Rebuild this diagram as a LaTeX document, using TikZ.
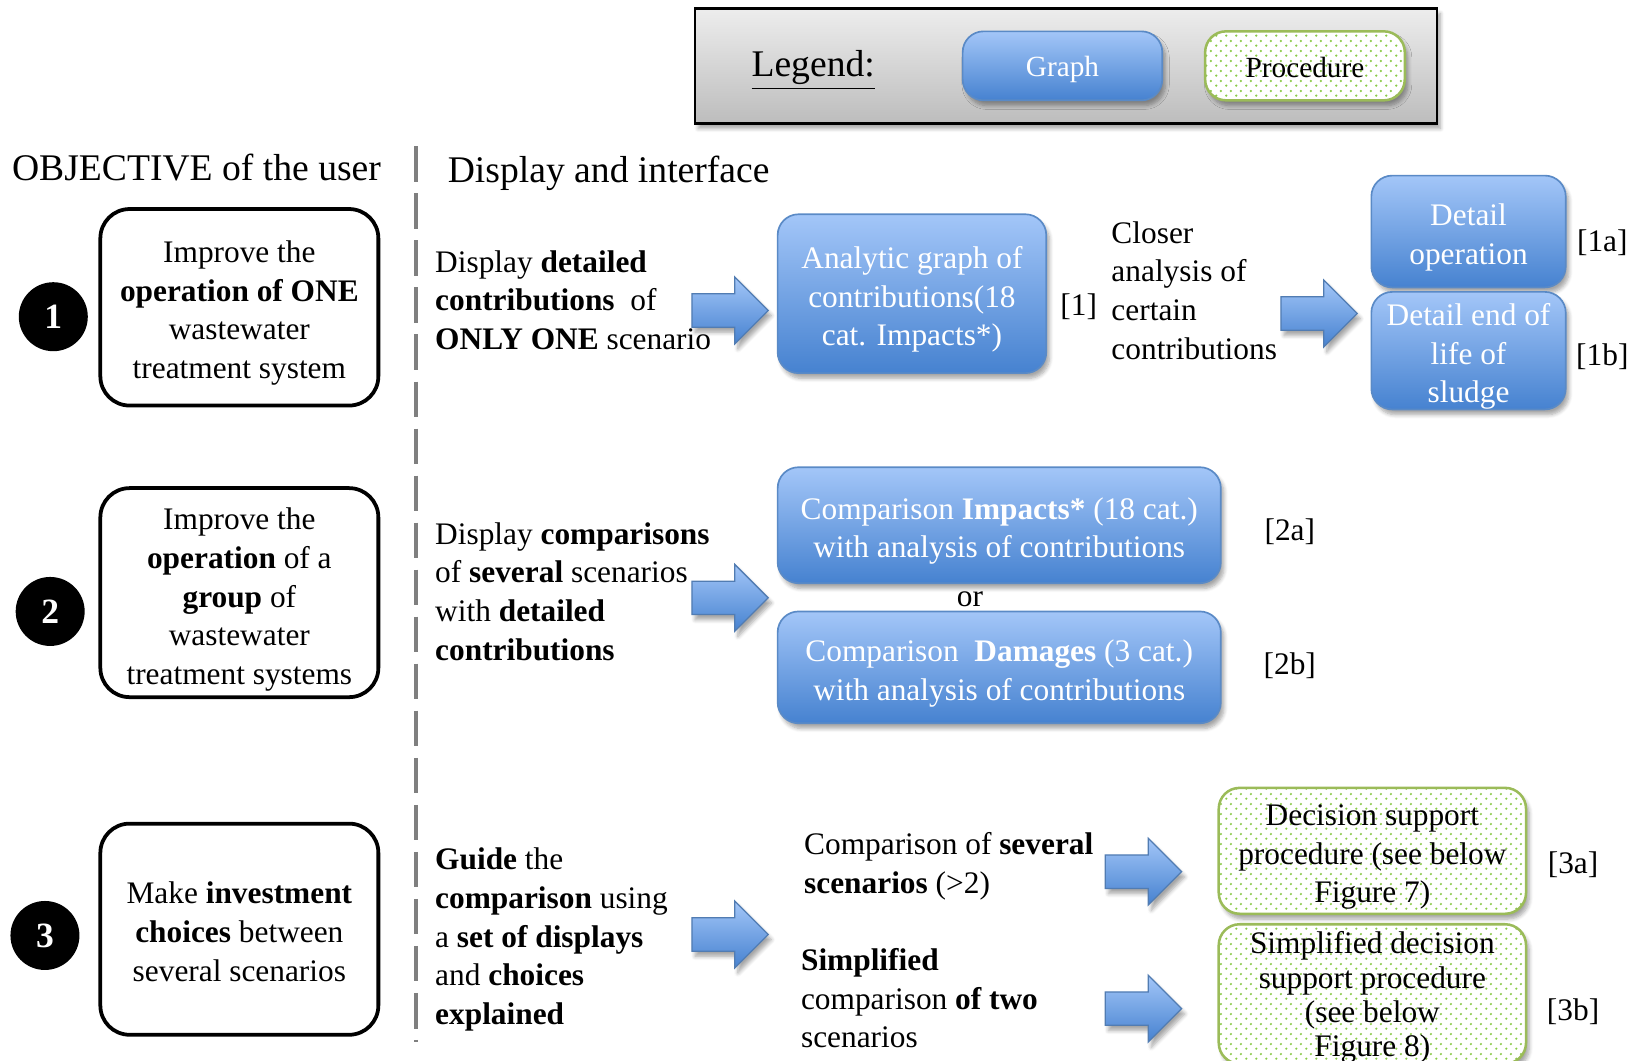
\documentclass[tikz,border=0pt]{standalone}
\usepackage{fontspec}
\setmainfont{Liberation Serif}
\usetikzlibrary{shadows.blur,patterns,patterns.meta}
\definecolor{bluetop}{HTML}{A3C6F8}
\definecolor{bluebot}{HTML}{4682D0}
\definecolor{blueline}{HTML}{5A8AC6}
\definecolor{greenline}{HTML}{9BBB59}
\definecolor{greendot}{HTML}{8CCB4A}
\definecolor{dashgray}{HTML}{7F7F7F}
\newcommand{\fs}{\rule{0pt}{16pt}}
\tikzdeclarepattern{
  name=gdots, type=uncolored,
  bounding box={(0pt,0pt) and (4.8pt,4.8pt)},
  tile size={(4.8pt,4.8pt)},
  code={\fill (1.2pt,1.2pt) circle (0.65pt); \fill (3.6pt,3.6pt) circle (0.65pt);}
}
\begin{document}
\begin{tikzpicture}[x=0.5pt,y=-0.5pt,
  txt/.style={font=\fontsize{15}{18.5}\selectfont, inner sep=0pt, align=left},
  head/.style={font=\fontsize{18}{21}\selectfont, inner sep=0pt},
  shad/.style={blur shadow={shadow xshift=1.5pt, shadow yshift=-2.5pt, shadow opacity=35, shadow blur steps=6}},
  bluebox/.style={shad, draw=blueline, line width=0.8pt, rounded corners=10pt,
     top color=bluetop, bottom color=bluebot, text=white, align=center,
     font=\fontsize{15}{18.5}\selectfont, inner sep=2pt},
  procbox/.style={shad, preaction={fill=white}, pattern={gdots}, pattern color=greendot,
     draw=greenline, line width=1.2pt, rounded corners=10pt, align=center,
     font=\fontsize{15}{18.5}\selectfont, inner sep=2pt},
  objbox/.style={draw=black, line width=1.8pt, rounded corners=14pt, fill=white, align=center,
     font=\fontsize{15}{18.5}\selectfont, minimum width=133pt, inner sep=2pt},
  numdot/.style={circle, fill=black, text=white, minimum size=33pt, inner sep=0pt,
     font=\fontsize{17}{20}\selectfont\bfseries},
  arrowshape/.style={shad, draw=blueline!90!black, line width=0.6pt, top color=bluetop, bottom color=bluebot},
  barrow/.pic={\path[arrowshape] (-36.5,-16) -- (4.5,-16) -- (4.5,-32) -- (36.5,0) -- (4.5,32) -- (4.5,16) -- (-36.5,16) -- cycle;},
  dashline/.style={draw=dashgray, line width=1.6pt, dash pattern=on 17pt off 5.5pt}
]
\useasboundingbox (0,0) rectangle (1570,1015);

% legend
\node[shad, draw=black, line width=1.2pt, top color=white!93!black, bottom color=white!74!black,
      minimum width=355pt, minimum height=55pt, inner sep=0pt] (legend) at (1020,63) {};
\node[head] (legtitle) at (778,67) {\underline{Legend:}};
\node[bluebox, minimum width=95.5pt, minimum height=33pt, font=\fontsize{14}{16}\selectfont] (leggraph) at (1016.5,63) {\rule{0pt}{13.5pt}Graph};
\node[procbox, minimum width=95.5pt, minimum height=33pt, font=\fontsize{14}{16}\selectfont] (legproc) at (1248.5,63) {\rule{0pt}{11.5pt}Procedure};

% headers
\node[head] (hobj) at (188,160) {OBJECTIVE of the user};
\node[head, anchor=west] (hdisp) at (428,166) {Display and interface};
\coordinate (dtop) at (398,140);
\coordinate (dbot) at (398,997);
\draw[dashline] (dtop) -- (dbot);

% objectives
\node[objbox, minimum height=94pt] (obj1) at (229,294) {\fs Improve the\\\textbf{operation of ONE}\\wastewater\\treatment system};
\node[objbox, minimum height=100pt] (obj2) at (229,567) {\rule{0pt}{17pt}Improve the\\\textbf{operation} of a\\\textbf{group} of\\wastewater\\treatment systems};
\node[objbox, minimum height=101pt] (obj3) at (229,889) {\rule{0pt}{13pt}Make \textbf{investment}\\\textbf{choices} between\\several scenarios};
\node[numdot] (n1) at (51,303) {1};
\node[numdot] (n2) at (48,585) {2};
\node[numdot] (n3) at (43,895) {3};

% row 1
\node[txt, anchor=west] (d1) at (416,287) {Display \textbf{detailed}\\\textbf{contributions}\ \ of\\\textbf{ONLY ONE} scenario};
\pic at (698.5,297) {barrow};
\node[bluebox, minimum width=128.5pt, minimum height=76pt] (g1) at (872.5,281) {\fs Analytic graph of\\contributions(18\\cat. Impacts*)};
\node[txt] (l1) at (1032,293) {[1]};
\node[txt, anchor=west] (c1) at (1063,278) {Closer\\analysis of\\certain\\contributions};
\pic at (1262,300) {barrow};
\node[bluebox, minimum width=93pt, minimum height=53.5pt] (g1a) at (1405,221.5) {\fs Detail\\operation};
\node[bluebox, minimum width=93pt, minimum height=53.5pt, inner sep=0pt] (g1b) at (1405,335.5) {\fs Detail end of\\life of\\sludge};
\node[txt] (l1a) at (1533,232) {[1a]};
\node[txt] (l1b) at (1533,341) {[1b]};

% row 2
\node[txt, anchor=west] (d2) at (416,566) {Display \textbf{comparisons}\\of \textbf{several} scenarios\\with \textbf{detailed}\\\textbf{contributions}};
\pic at (698.5,572) {barrow};
\node[bluebox, minimum width=212pt, minimum height=55.5pt] (g2a) at (956,502.5) {\fs Comparison \textbf{Impacts*} (18 cat.)\\with analysis of contributions};
\node[txt] (or) at (928,573) {or};
\node[bluebox, minimum width=212pt, minimum height=53.5pt] (g2b) at (956,638.5) {\fs Comparison\ \ \textbf{Damages} (3 cat.)\\with analysis of contributions};
\node[txt] (l2a) at (1234,509) {[2a]};
\node[txt] (l2b) at (1234,637) {[2b]};

% row 3
\node[txt, anchor=west] (d3) at (416,899) {\textbf{Guide} the\\\textbf{comparison} using\\a \textbf{set of displays}\\and \textbf{choices}\\\textbf{explained}};
\pic at (698.5,894) {barrow};
\node[txt, anchor=west] (c3a) at (769,828.5) {Comparison of \textbf{several}\\\textbf{scenarios} (>2)};
\node[txt, anchor=west] (c3b) at (766,955) {\textbf{Simplified}\\comparison \textbf{of two}\\scenarios};
\pic at (1094,834) {barrow};
\pic at (1094,965) {barrow};
\node[procbox, minimum width=147pt, minimum height=56pt] (p3a) at (1313,814) {\fs Decision support\\procedure (see below\\Figure 7)};
\node[procbox, minimum width=147pt, minimum height=66pt, inner sep=0pt, font=\fontsize{15}{16.5}\selectfont] (p3b) at (1313,951) {\rule{0pt}{14pt}Simplified decision\\support procedure\\(see below\\Figure 8)};
\node[txt] (l3a) at (1505,827) {[3a]};
\node[txt] (l3b) at (1505,968) {[3b]};
\end{tikzpicture}
\end{document}
